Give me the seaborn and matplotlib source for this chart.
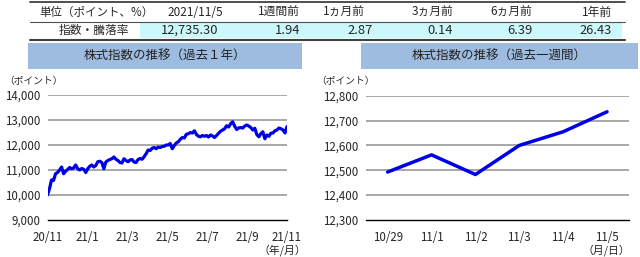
import matplotlib
matplotlib.use("Agg")
import matplotlib.pyplot as plt
import matplotlib.patches as patches
import seaborn as sns
import pandas as pd
import numpy as np

# ---- data ----
table_heads = ["単位（ポイント、%）", "2021/11/5", "1週間前", "1ヵ月前", "3ヵ月前", "6ヵ月前", "1年前"]
table_vals = ["指数・騰落率", "12,735.30", "1.94", "2.87", "0.14", "6.39", "26.43"]

year_ticks = ["20/11", "21/1", "21/3", "21/5", "21/7", "21/9", "21/11"]
year_vals = [
    10000, 10250, 10600, 10580, 10850, 10900, 11000, 11120, 10850, 10950,
    11020, 11100, 11050, 11080, 11200, 11050, 11000, 11060, 11030, 10900,
    11050, 11150, 11200, 11120, 11180, 11330, 11350, 11300, 11050, 11320,
    11380, 11420, 11450, 11520, 11430, 11380, 11300, 11280, 11450, 11380,
    11330, 11400, 11420, 11320, 11300, 11420, 11460, 11430, 11530, 11650,
    11800, 11780, 11870, 11900, 11850, 11920, 11900, 11940, 11950, 12000,
    12000, 12060, 11850, 11980, 12080, 12130, 12230, 12300, 12280, 12430,
    12450, 12500, 12480, 12570, 12420, 12350, 12330, 12380, 12350, 12380,
    12320, 12400, 12360, 12300, 12380, 12470, 12550, 12600, 12650, 12770,
    12720, 12850, 12930, 12750, 12620, 12680, 12700, 12680, 12760, 12800,
    12760, 12700, 12600, 12670, 12420, 12330, 12450, 12530, 12250, 12400,
    12350, 12470, 12480, 12570, 12600, 12680, 12650, 12600, 12480, 12735,
]

week_days = ["10/29", "11/1", "11/2", "11/3", "11/4", "11/5"]
week_vals = [12493, 12562, 12483, 12600, 12655, 12735.30]

# ---- style ----
sns.set_style("white")
plt.rcParams["font.family"] = ["Noto Sans CJK JP", "DejaVu Sans"]

W, H = 640, 257
fig = plt.figure(figsize=(6.4, 2.57), dpi=100)

line_col = "#0000e8"
grid_col = "#9a9a9a"
box_col = "#9dbce0"
cyan = "#cdf8fb"
tick_fs = 8.3


def px_rect(x0, y0, x1, y1):
    return [x0 / W, 1 - y1 / H, (x1 - x0) / W, (y1 - y0) / H]


# ---- table ----
tab = fig.add_axes(px_rect(0, 0, 640, 42))
tab.set_xlim(0, 640)
tab.set_ylim(42, 0)
tab.axis("off")
tab.add_patch(patches.Rectangle((140, 22), 482, 16, color=cyan, lw=0))
tab.plot([30, 625], [1.5, 1.5], color="#404040", lw=1.3)
tab.plot([30, 625], [21.5, 21.5], color="#505050", lw=0.8)
tab.plot([30, 625], [39.8, 39.8], color="#404040", lw=1.5)

head_x = [223, 300, 365, 453, 532, 612]
val_x = [218, 300, 373, 453, 532, 612]
tab.text(39, 12, table_heads[0], fontsize=8.3, va="center", ha="left")
tab.text(94, 30.5, table_vals[0], fontsize=8.5, va="center", ha="center")
for i in range(6):
    tab.text(head_x[i], 12, table_heads[i + 1], fontsize=8.5, va="center", ha="right")
    tab.text(val_x[i], 30.5, table_vals[i + 1], fontsize=9.3, va="center", ha="right")

# ---- title boxes ----
for (x0, x1, title) in [(28, 302, "株式指数の推移（過去１年）"),
                        (361, 638, "株式指数の推移（過去一週間）")]:
    tb = fig.add_axes(px_rect(x0, 43, x1, 69))
    tb.set_facecolor(box_col)
    for s in tb.spines.values():
        s.set_visible(False)
    tb.set_xticks([])
    tb.set_yticks([])
    tb.text(0.5, 0.5, title, transform=tb.transAxes, ha="center",
            va="center", fontsize=9, color="#222222")


def style_axis(ax, ymin, ymax, ystep):
    ax.set_ylim(ymin, ymax)
    yt = np.arange(ymin, ymax + 1, ystep)
    ax.set_yticks(yt)
    ax.set_yticklabels([f"{int(v):,}" for v in yt], fontsize=tick_fs)
    for v in yt[1:]:
        ax.axhline(v, color=grid_col, lw=1.2, zorder=0)
    for s in ["top", "right", "left"]:
        ax.spines[s].set_visible(False)
    ax.spines["bottom"].set_color("black")
    ax.spines["bottom"].set_linewidth(1.0)
    ax.tick_params(axis="y", length=0, pad=5)
    ax.tick_params(axis="x", direction="in", length=3, width=1,
                   color="black", pad=8, labelsize=tick_fs)
    ax.set_xlabel("")
    ax.set_ylabel("")


# ---- left chart ----
ax1 = fig.add_axes(px_rect(47.5, 95, 287, 220))
df_year = pd.DataFrame({"idx": np.arange(len(year_vals)), "val": year_vals})
sns.lineplot(data=df_year, x="idx", y="val", ax=ax1, color=line_col, lw=2.3)
n = len(year_vals) - 1
ax1.set_xlim(0, n)
ax1.set_xticks(np.linspace(0, n, len(year_ticks)))
ax1.set_xticklabels(year_ticks)
style_axis(ax1, 9000, 14000, 1000)
fig.text(4 / W, 1 - 81 / H, "（ポイント）", fontsize=7, va="center", ha="left")
fig.text(306 / W, 1 - 250 / H, "（年/月）", fontsize=7.8, va="center", ha="right")

# ---- right chart ----
ax2 = fig.add_axes(px_rect(365.7, 95.7, 629, 220))
df_week = pd.DataFrame({"day": week_days, "val": week_vals})
sns.lineplot(data=df_week, x="day", y="val", ax=ax2, color=line_col, lw=2.5, sort=False)
ax2.set_xlim(-0.5, len(week_days) - 0.5)
ax2.set_xticks(np.arange(-0.5, len(week_days)), minor=False)
ax2.set_xticklabels([])
ax2.set_xticks(np.arange(len(week_days)), minor=True)
ax2.set_xticklabels(week_days, minor=True)
style_axis(ax2, 12300, 12800, 100)
ax2.tick_params(axis="x", which="minor", length=0, pad=8, labelsize=tick_fs)
ax2.tick_params(axis="x", which="major", length=4)
fig.text(316 / W, 1 - 81 / H, "（ポイント）", fontsize=7, va="center", ha="left")
fig.text(630 / W, 1 - 250 / H, "（月/日）", fontsize=7.8, va="center", ha="right")

fig.savefig("out.png", dpi=100)
